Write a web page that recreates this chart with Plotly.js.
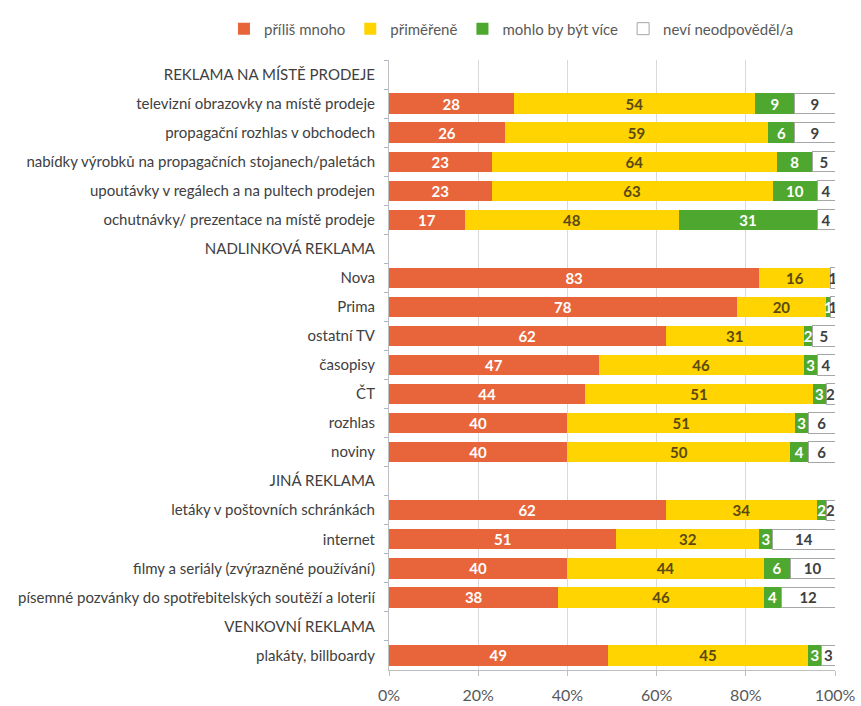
<!DOCTYPE html>
<html>
<head>
<meta charset="utf-8">
<script src="https://cdn.plot.ly/plotly-3.0.1.min.js"></script>
<style>html,body{margin:0;padding:0;background:#fff;}</style>
</head>
<body>
<div id="chart" style="width:861px;height:706px;"></div>
<script>
const categories = [
  "REKLAMA NA MÍSTĚ PRODEJE",
  "televizní obrazovky na místě prodeje",
  "propagační rozhlas v obchodech",
  "nabídky výrobků na propagačních stojanech/paletách",
  "upoutávky v regálech a na pultech prodejen",
  "ochutnávky/ prezentace na místě prodeje",
  "NADLINKOVÁ REKLAMA",
  "Nova",
  "Prima",
  "ostatní TV",
  "časopisy",
  "ČT",
  "rozhlas",
  "noviny",
  "JINÁ REKLAMA",
  "letáky v poštovních schránkách",
  "internet",
  "filmy a seriály (zvýrazněné používání)",
  "písemné pozvánky do spotřebitelských soutěží a loterií",
  "VENKOVNÍ REKLAMA",
  "plakáty, billboardy"
];
const seriesNames = ["příliš mnoho", "přiměřeně", "mohlo by být více", "neví neodpověděl/a"];
const tooMuch     = [null, 28, 26, 23, 23, 17, null, 83, 78, 62, 47, 44, 40, 40, null, 62, 51, 40, 38, null, 49];
const adequate    = [null, 54, 59, 64, 63, 48, null, 16, 20, 31, 46, 51, 51, 50, null, 34, 32, 44, 46, null, 45];
const couldBeMore = [null,  9,  6,  8, 10, 31, null,  0,  1,  2,  3,  3,  3,  4, null,  2,  3,  6,  4, null,  3];
const dontKnow    = [null,  9,  9,  5,  4,  4, null,  1,  1,  5,  4,  2,  6,  6, null,  2, 14, 10, 12, null,  3];
const xTicks = [0, 20, 40, 60, 80, 100];

const FONT = "Lato, 'Open Sans', sans-serif";
const colors = ["#E8643A", "#FFD400", "#4EA72E", "#FFFFFF"];
const textColors = ["#FFFFFF", "#5A4A10", "#FFFFFF", "#404040"];
const allSeries = [tooMuch, adequate, couldBeMore, dontKnow];

const traces = allSeries.map((vals, i) => ({
  type: "bar",
  orientation: "h",
  name: seriesNames[i],
  y: categories,
  x: vals,
  text: vals.map(v => (v ? String(v) : "")),
  texttemplate: "%{text}",
  textposition: "inside",
  insidetextanchor: "middle",
  textangle: 0,
  insidetextfont: {family: FONT, size: 15, color: textColors[i], weight: "bold"},
  marker: {
    color: colors[i],
    line: i === 3 ? {color: "#A6A6A6", width: 1} : {width: 0}
  },
  hoverinfo: "skip"
}));

const layout = {
  width: 861,
  height: 706,
  barmode: "stack",
  bargap: 0.3,
  paper_bgcolor: "#FFFFFF",
  plot_bgcolor: "#FFFFFF",
  margin: {l: 389, r: 26, t: 60, b: 36, pad: 0},
  font: {family: FONT, color: "#404040"},
  uniformtext: {mode: "show", minsize: 15},
  showlegend: true,
  legend: {
    orientation: "h",
    xref: "paper",
    yref: "paper",
    x: -0.37,
    xanchor: "left",
    y: 1.078,
    yanchor: "top",
    font: {family: FONT, size: 15, color: "#595959"},
    traceorder: "normal",
    itemwidth: 30
  },
  xaxis: {
    range: [0, 100],
    tickvals: xTicks,
    ticktext: xTicks.map(v => v + "%"),
    showgrid: true,
    gridcolor: "#D9D9D9",
    gridwidth: 1,
    zeroline: false,
    showline: true,
    linecolor: "#BFBFBF",
    ticks: "outside",
    ticklen: 5,
    tickcolor: "#BFBFBF",
    ticklabelstandoff: 6,
    tickfont: {family: FONT, size: 16, color: "#595959"},
    fixedrange: true
  },
  yaxis: {
    type: "category",
    autorange: "reversed",
    showgrid: false,
    zeroline: false,
    showline: true,
    linecolor: "#BFBFBF",
    ticks: "outside",
    tickson: "boundaries",
    ticklen: 4,
    tickcolor: "#A6B8C8",
    ticklabelstandoff: 10,
    tickfont: {family: FONT, size: 15, color: "#404040"},
    fixedrange: true
  }
};

Plotly.newPlot("chart", traces, layout, {displayModeBar: false, staticPlot: true});
</script>
</body>
</html>
